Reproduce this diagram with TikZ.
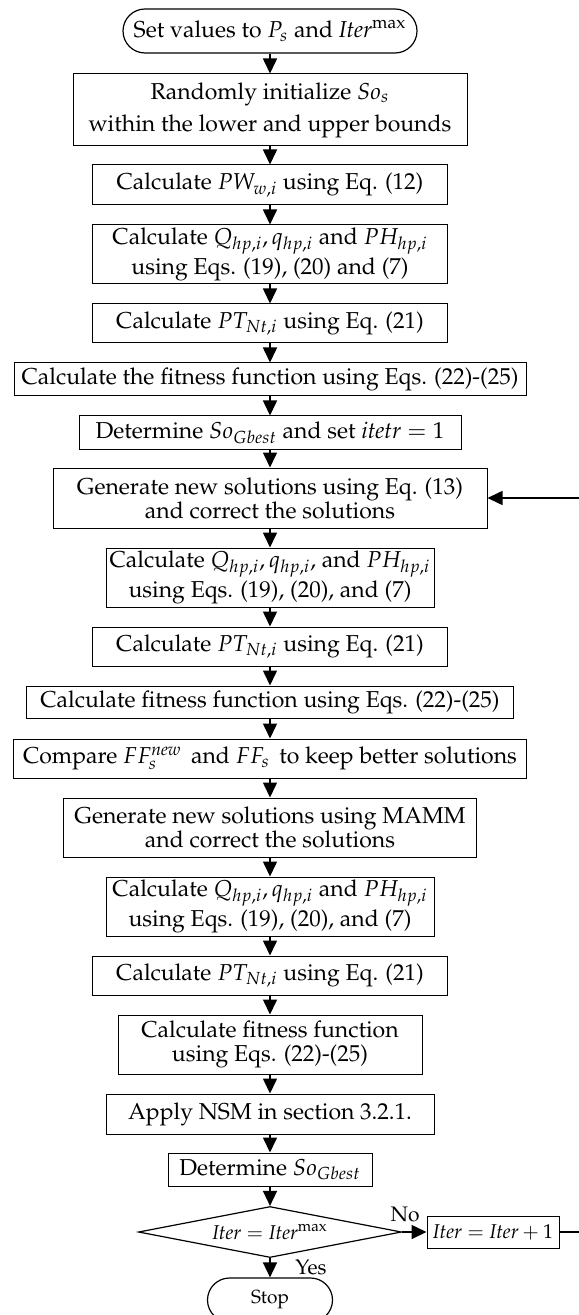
\documentclass[tikz,border=0pt]{standalone}
\usepackage[T1]{fontenc}
\usepackage{mathpazo}
\usetikzlibrary{arrows.meta,shapes.geometric}

\begin{document}
\begin{tikzpicture}[x=0.5pt, y=-0.5pt, every node/.style={font=\fontsize{11.5}{12}\selectfont},
    box/.style={draw, line width=0.5pt, inner sep=1pt, align=center},
    term/.style={draw, line width=0.6pt, rounded corners=11pt, inner sep=1pt, align=center},
    cond/.style={draw, diamond, shape aspect=5, line width=0.6pt, inner sep=0pt},
    flow/.style={-{Triangle[width=7pt,length=7.5pt]}, line width=0.8pt},
    small/.style={font=\fontsize{10}{11}\selectfont},
    lbl/.style={font=\fontsize{10.5}{11}\selectfont}]
  \useasboundingbox (0,0) rectangle (578,1315);
  % Initialisation
  \node[term, minimum width=147pt, minimum height=22pt] (start) at (270, 31) {Set values to $P_s$ and $\mathit{Iter}^{\max}$};
  \node[box, minimum width=197pt, minimum height=36pt] (init) at (270, 110) {Randomly initialize $So_s$\\[4pt] within the lower and upper bounds};
  \node[box, minimum width=177.5pt, minimum height=20pt] (calcpw) at (270, 185) {Calculate $PW_{w,i}$ using Eq. (12)};
  \node[box, minimum width=177.5pt, minimum height=29.5pt] (calcq) at (270, 254.5) {Calculate $Q_{hp,i}, q_{hp,i}$ and $PH_{hp,i}$\\[1pt] using Eqs. (19), (20) and (7)};
  \node[box, minimum width=177.5pt, minimum height=19.5pt] (calcpt) at (270, 323.5) {Calculate $PT_{Nt,i}$ using Eq. (21)};
  \node[box, minimum width=256pt, minimum height=16.5pt] (fitness) at (270, 379.5) {Calculate the fitness function using Eqs. (22)-(25)};
  \node[box, minimum width=191pt, minimum height=16.5pt] (best) at (270, 432.5) {Determine $So_{Gbest}$ and set $\mathit{itetr} = 1$};
  % Main loop
  \node[box, minimum width=217pt, minimum height=30pt] (gennew) at (270, 498) {Generate new solutions using Eq. (13)\\ and correct the solutions};
  \node[box, minimum width=164pt, minimum height=29.5pt] (calcqb) at (270, 577.5) {Calculate $Q_{hp,i}, q_{hp,i}$, and $PH_{hp,i}$\\[1pt] using Eqs. (19), (20), and (7)};
  \node[box, minimum width=177.5pt, minimum height=19.5pt] (calcptb) at (270, 646.5) {Calculate $PT_{Nt,i}$ using Eq. (21)};
  \node[box, minimum width=243.5pt, minimum height=16pt] (fitnessb) at (270, 702) {Calculate fitness function using Eqs. (22)-(25)};
  \node[box, minimum width=256.5pt, minimum height=19.5pt] (compare) at (270, 758.5) {Compare $FF_s^{\mathit{new}}$\, and $FF_s$\, to keep better solutions};
  \node[box, minimum width=206.5pt, minimum height=29.5pt] (genmamm) at (270, 827.5) {Generate new solutions using MAMM\\ and correct the solutions};
  \node[box, minimum width=164pt, minimum height=29.5pt] (calcqc) at (270, 906.5) {Calculate $Q_{hp,i}, q_{hp,i}$ and $PH_{hp,i}$\\[1pt] using Eqs. (19), (20), and (7)};
  \node[box, minimum width=177.5pt, minimum height=19.5pt] (calcptc) at (270, 975.5) {Calculate $PT_{Nt,i}$ using Eq. (21)};
  \node[box, minimum width=152pt, minimum height=29.5pt] (fitnessc) at (270, 1044.5) {Calculate fitness function\\ using Eqs. (22)-(25)};
  \node[box, minimum width=164pt, minimum height=20pt] (nsm) at (270, 1114) {Apply NSM in section 3.2.1.};
  \node[box, minimum width=102pt, minimum height=16.5pt] (bestb) at (270, 1169.5) {Determine $So_{Gbest}$};
  % Stopping test
  \node[cond, small, minimum width=131.5pt, minimum height=25.5pt] (check) at (270, 1232) {$\mathit{Iter} = \mathit{Iter}^{\max}$};
  \node[box, small, minimum width=66pt, minimum height=16pt] (incr) at (493, 1232) {$\mathit{Iter} = \mathit{Iter} + 1$};
  \node[term, minimum width=62.5pt, minimum height=22pt, font=\fontsize{9.5}{10}\selectfont] (stop) at (270, 1300) {Stop};
  \node[lbl] (nolbl) at (405, 1214) {No};
  \node[lbl] (yeslbl) at (311, 1267) {Yes};
  \coordinate (loopright) at (586, 1232);
  % Connectors
  \draw[flow] (start) -- (init);
  \draw[flow] (init) -- (calcpw);
  \draw[flow] (calcpw) -- (calcq);
  \draw[flow] (calcq) -- (calcpt);
  \draw[flow] (calcpt) -- (fitness);
  \draw[flow] (fitness) -- (best);
  \draw[flow] (best) -- (gennew);
  \draw[flow] (gennew) -- (calcqb);
  \draw[flow] (calcqb) -- (calcptb);
  \draw[flow] (calcptb) -- (fitnessb);
  \draw[flow] (fitnessb) -- (compare);
  \draw[flow] (compare) -- (genmamm);
  \draw[flow] (genmamm) -- (calcqc);
  \draw[flow] (calcqc) -- (calcptc);
  \draw[flow] (calcptc) -- (fitnessc);
  \draw[flow] (fitnessc) -- (nsm);
  \draw[flow] (nsm) -- (bestb);
  \draw[flow] (bestb) -- (check);
  \draw[flow] (check) -- (stop);
  \draw[flow] (check) -- (incr);
  \draw[flow] (incr) -- (loopright) |- (gennew);
\end{tikzpicture}
\end{document}
